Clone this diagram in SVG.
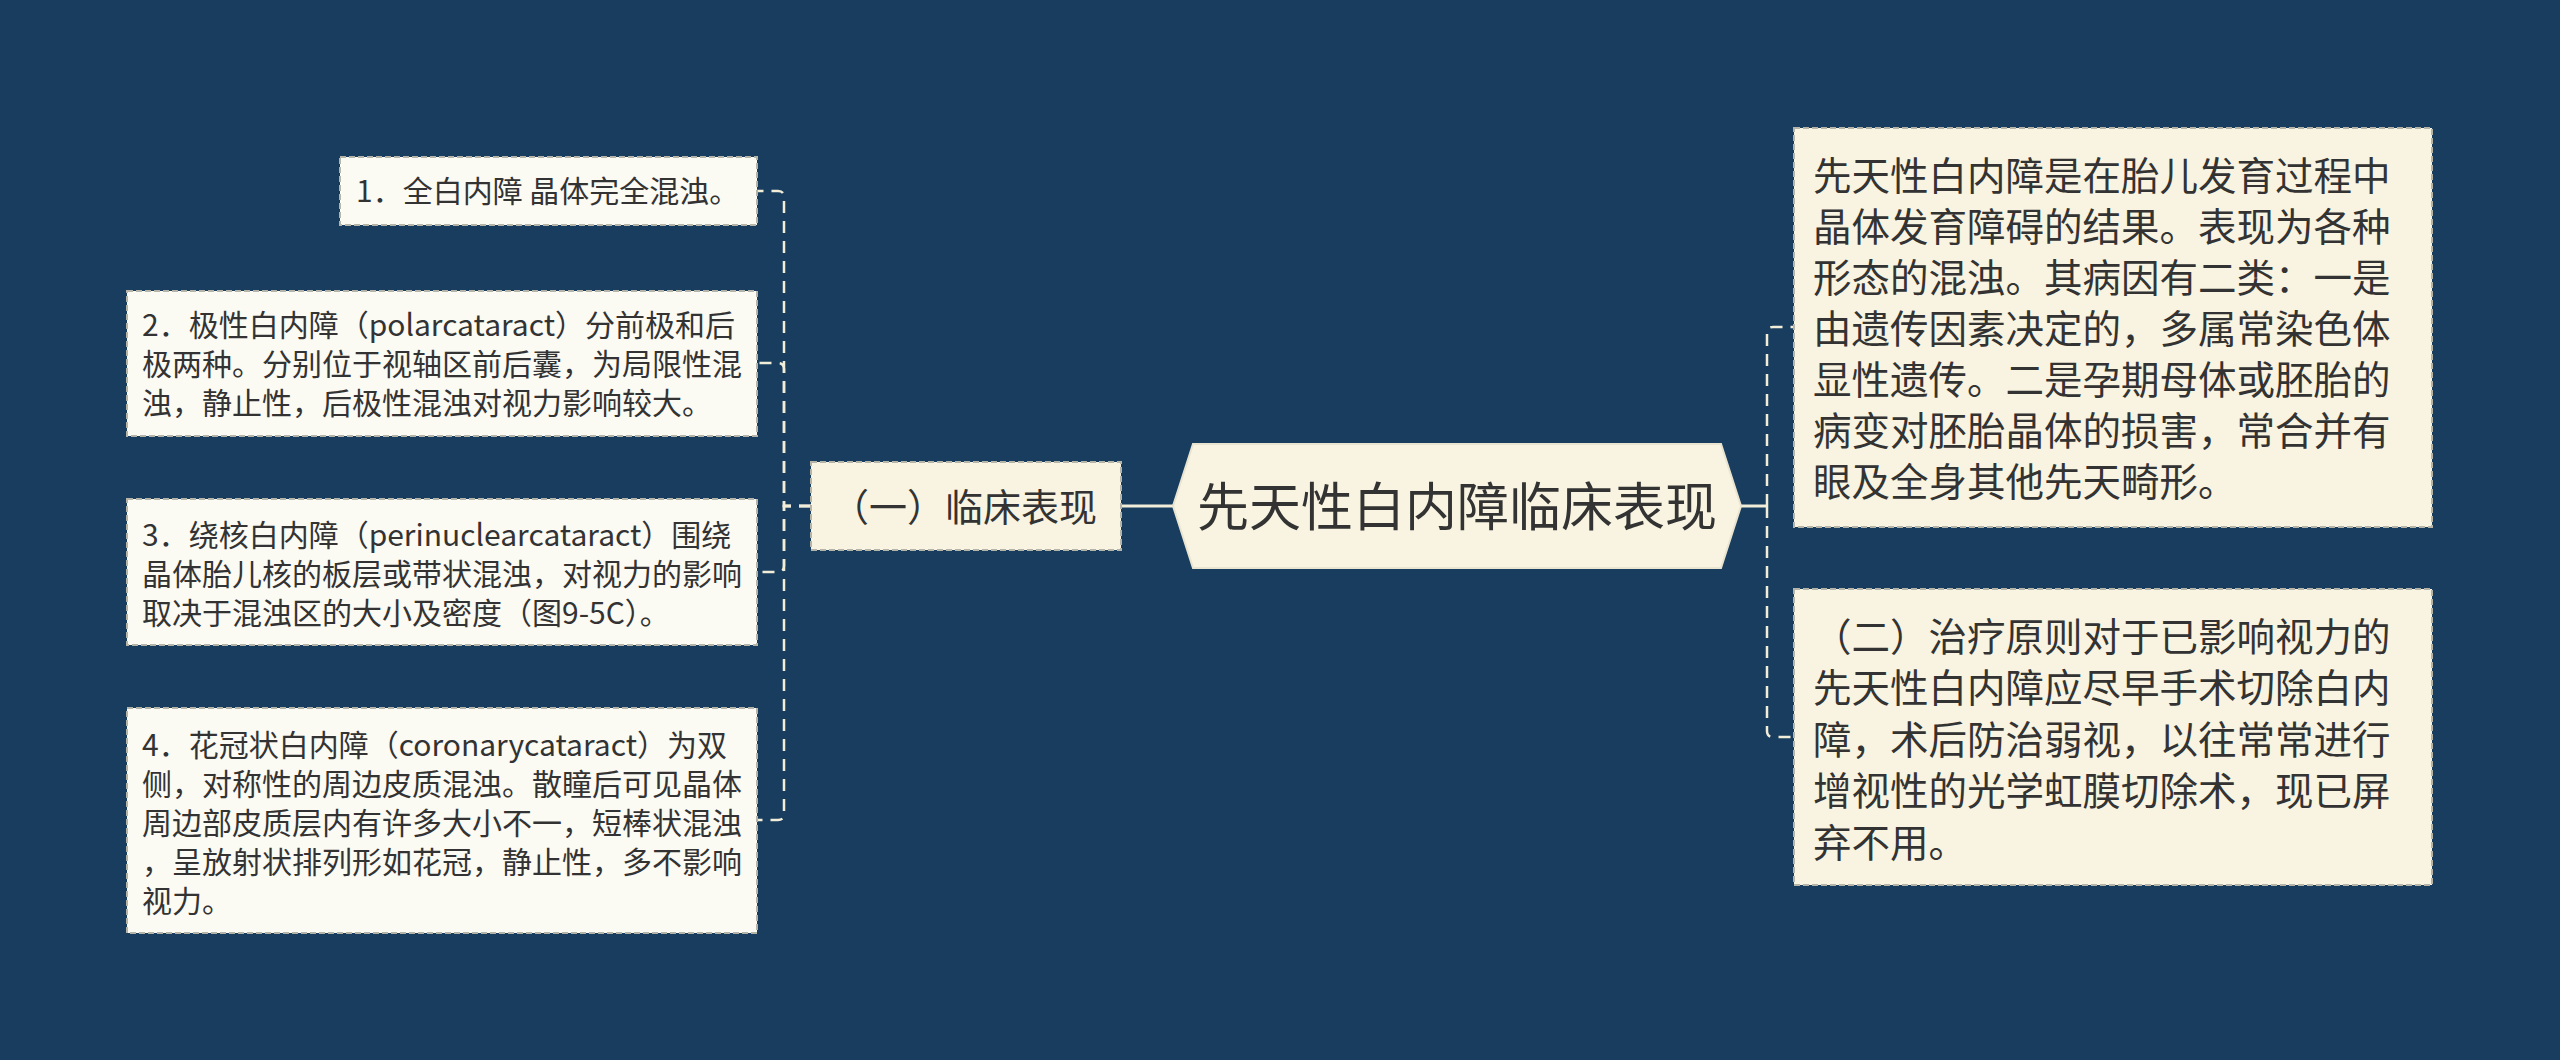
<svg xmlns="http://www.w3.org/2000/svg" width="2560" height="1060" viewBox="0 0 2560 1060">
<style>
.bg{fill:#193d5e}
.leaf{fill:#fbfaf3;stroke:#b4b4a8;stroke-width:2;stroke-dasharray:6 3}
.cream{fill:#f8f4e1;stroke:#b4b4a8;stroke-width:2;stroke-dasharray:6 3}
.root{fill:#f8f4e1;stroke:#e8e4d0;stroke-width:2}
.t{font-family:"Noto Sans CJK SC","Noto Sans",sans-serif;fill:#333333}
.s{font-size:30px}
.r{font-size:38.5px}
.dash{fill:none;stroke:#f1edd9;stroke-width:2.5;stroke-dasharray:12 8}
.solid{fill:none;stroke:#f1edd9;stroke-width:3}
</style>
<rect class="bg" x="0" y="0" width="2560" height="1060"/>
<g id="connectors">
<path class="solid" d="M1121 506 H1173"/>
<path class="dash" d="M811 506 H784 V197 Q784 191 778 191 H757"/>
<path class="dash" d="M811 506 H784 V369 Q784 363 778 363 H757"/>
<path class="dash" d="M811 506 H784 V566 Q784 572 778 572 H757"/>
<path class="dash" d="M811 506 H784 V814 Q784 820 778 820 H757"/>
<path class="solid" d="M1741 506 H1767"/>
<path class="dash" d="M1767 506 V333 Q1767 327 1773 327 H1794"/>
<path class="dash" d="M1767 506 V731 Q1767 737 1773 737 H1794"/>
</g>
<g id="root">
<polygon class="root" points="1173,506 1193,444 1721,444 1741,506 1721,568 1193,568"/>
<text class="t" x="1457" y="526" font-size="52" text-anchor="middle">先天性白内障临床表现</text>
</g>
<g id="sub1">
<rect class="cream" x="811" y="462" width="310" height="88"/>
<text class="t" x="831" y="521" font-size="38">（一）临床表现</text>
</g>
<g id="leaf1">
<rect class="leaf" x="340" y="157" width="417" height="68"/>
<text class="t s" x="356" y="202">1．全白内障 晶体完全混浊。</text>
</g>
<g id="leaf2">
<rect class="leaf" x="127" y="291" width="630" height="145"/>
<text class="t s" x="142"><tspan x="142" y="336">2．极性白内障（polarcataract）分前极和后</tspan><tspan x="142" y="375">极两种。分别位于视轴区前后囊，为局限性混</tspan><tspan x="142" y="414">浊，静止性，后极性混浊对视力影响较大。</tspan></text>
</g>
<g id="leaf3">
<rect class="leaf" x="127" y="499" width="630" height="146"/>
<text class="t s" x="142"><tspan x="142" y="546">3．绕核白内障（perinuclearcataract）围绕</tspan><tspan x="142" y="585">晶体胎儿核的板层或带状混浊，对视力的影响</tspan><tspan x="142" y="624">取决于混浊区的大小及密度（图9-5C）。</tspan></text>
</g>
<g id="leaf4">
<rect class="leaf" x="127" y="708" width="630" height="225"/>
<text class="t s" x="142"><tspan x="142" y="756">4．花冠状白内障（coronarycataract）为双</tspan><tspan x="142" y="795">侧，对称性的周边皮质混浊。散瞳后可见晶体</tspan><tspan x="142" y="834">周边部皮质层内有许多大小不一，短棒状混浊</tspan><tspan x="142" y="873">，呈放射状排列形如花冠，静止性，多不影响</tspan><tspan x="142" y="912">视力。</tspan></text>
</g>
<g id="right1">
<rect class="cream" x="1794" y="128" width="638" height="399"/>
<text class="t r" x="1813"><tspan x="1813" y="190">先天性白内障是在胎儿发育过程中</tspan><tspan x="1813" y="241">晶体发育障碍的结果。表现为各种</tspan><tspan x="1813" y="292">形态的混浊。其病因有二类：一是</tspan><tspan x="1813" y="343">由遗传因素决定的，多属常染色体</tspan><tspan x="1813" y="394">显性遗传。二是孕期母体或胚胎的</tspan><tspan x="1813" y="445">病变对胚胎晶体的损害，常合并有</tspan><tspan x="1813" y="496">眼及全身其他先天畸形。</tspan></text>
</g>
<g id="right2">
<rect class="cream" x="1794" y="589" width="638" height="296"/>
<text class="t r" x="1813"><tspan x="1813" y="651">（二）治疗原则对于已影响视力的</tspan><tspan x="1813" y="702">先天性白内障应尽早手术切除白内</tspan><tspan x="1813" y="754">障，术后防治弱视，以往常常进行</tspan><tspan x="1813" y="805">增视性的光学虹膜切除术，现已屏</tspan><tspan x="1813" y="857">弃不用。</tspan></text>
</g>
</svg>
